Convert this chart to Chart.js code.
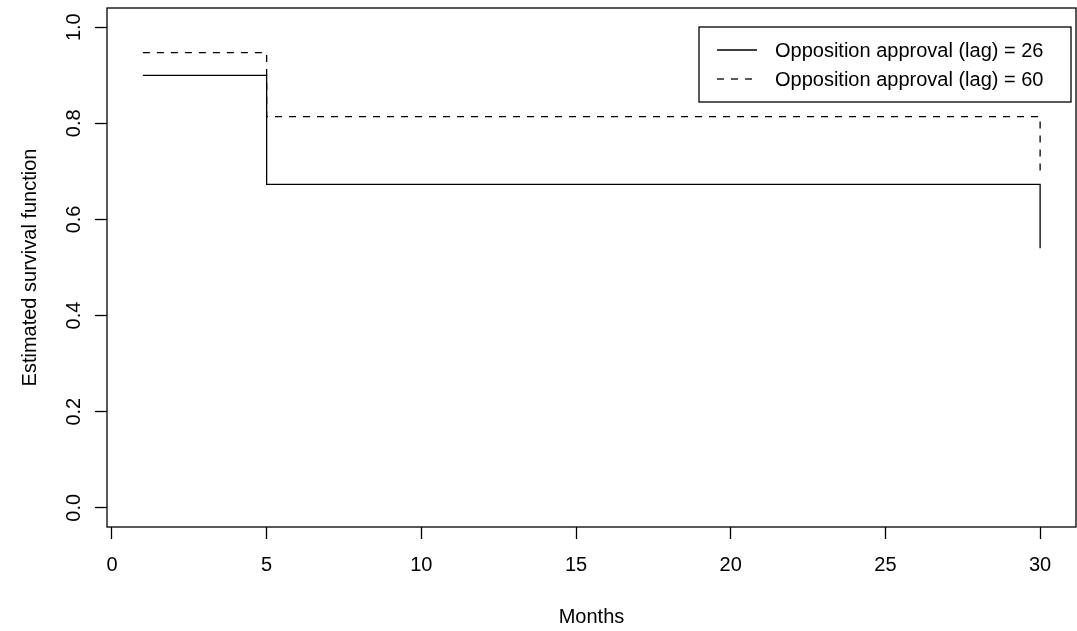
<!DOCTYPE html>
<html>
<head>
<meta charset="utf-8">
<title>Estimated survival function</title>
<script src="https://cdn.jsdelivr.net/npm/chart.js@4.4.1/dist/chart.umd.min.js"></script>
<style>
  html, body { margin: 0; padding: 0; background: #fff; }
  canvas { display: block; }
</style>
</head>
<body>
<canvas id="survival" width="1077" height="631"></canvas>
<script>
// step points (month where the estimate changes)
const months = [1, 5, 30];
const survLag26 = [0.900, 0.673, 0.540];
const survLag60 = [0.947, 0.814, 0.696];

const seriesLabels = ['Opposition approval (lag) = 26', 'Opposition approval (lag) = 60'];

const xTicks = [0, 5, 10, 15, 20, 25, 30];
const yTicks = [0.0, 0.2, 0.4, 0.6, 0.8, 1.0];
const xRange = [-0.16, 31.16];
const yRange = [-0.04, 1.04];

const FONT = "'Liberation Sans', Arial, Helvetica, sans-serif";

function toPoints(xs, ys) {
  return xs.map((x, i) => ({ x, y: ys[i] }));
}

// labels may spill past the box, R style; don't let chart.js shrink the area for them
function noOverflow(s) {
  s.paddingTop = 0;
  s.paddingBottom = 0;
  s.paddingLeft = 0;
  s.paddingRight = 0;
}

// R-style full box around the plotting region
const boxPlugin = {
  id: 'plotBox',
  afterDraw(chart) {
    const { ctx, chartArea: a } = chart;
    ctx.save();
    ctx.strokeStyle = '#000';
    ctx.lineWidth = 1.3;
    ctx.strokeRect(a.left, a.top, a.right - a.left, a.bottom - a.top);
    ctx.restore();
  }
};

// boxed legend in the top-right corner
const legendPlugin = {
  id: 'boxLegend',
  afterDraw(chart) {
    const { ctx, chartArea: a } = chart;
    const right = a.right - 5;
    const left = right - 372;
    const top = a.top + 19;
    const h = 75;
    ctx.save();
    ctx.strokeStyle = '#000';
    ctx.lineWidth = 1.3;
    ctx.strokeRect(left, top, right - left, h);
    ctx.font = '20px ' + FONT;
    ctx.fillStyle = '#000';
    ctx.textBaseline = 'middle';
    ctx.textAlign = 'left';
    chart.data.datasets.forEach((ds, i) => {
      const y = top + 23 + i * 29;
      ctx.beginPath();
      ctx.setLineDash(ds.borderDash || []);
      ctx.lineWidth = ds.borderWidth;
      ctx.strokeStyle = ds.borderColor;
      ctx.moveTo(left + 18, y);
      ctx.lineTo(left + 58, y);
      ctx.stroke();
      ctx.setLineDash([]);
      ctx.fillText(ds.label, left + 76, y + 1);
    });
    ctx.restore();
  }
};

function boot() {
  const el = document.getElementById('survival');
  Chart.defaults.font.family = FONT;
  Chart.defaults.font.size = 20;
  Chart.defaults.color = '#000';

  new Chart(el.getContext('2d'), {
    type: 'line',
    data: {
      datasets: [
        {
          label: seriesLabels[0],
          data: toPoints(months, survLag26),
          stepped: 'before',
          borderColor: '#000',
          borderWidth: 1.3,
          pointRadius: 0,
          fill: false
        },
        {
          label: seriesLabels[1],
          data: toPoints(months, survLag60),
          stepped: 'before',
          borderColor: '#000',
          borderWidth: 1.3,
          borderDash: [7, 7],
          pointRadius: 0,
          fill: false
        }
      ]
    },
    options: {
      responsive: false,
      animation: false,
      layout: { padding: { top: 8, right: 1, left: 0, bottom: 0 } },
      plugins: {
        legend: { display: false },
        tooltip: { enabled: false }
      },
      scales: {
        x: {
          type: 'linear',
          min: xRange[0],
          max: xRange[1],
          afterBuildTicks: s => { s.ticks = xTicks.map(v => ({ value: v })); },
          afterFit: s => { s.height = 104; noOverflow(s); },
          border: { display: false },
          grid: { drawOnChartArea: false, drawTicks: true, tickLength: 12, tickColor: '#000', tickWidth: 1.3 },
          ticks: { autoSkip: false, maxRotation: 0, padding: 14, color: '#000', font: { size: 20 } },
          title: { display: true, text: 'Months', color: '#000', font: { size: 20 }, padding: { top: 0, bottom: 2 } }
        },
        y: {
          type: 'linear',
          min: yRange[0],
          max: yRange[1],
          afterBuildTicks: s => { s.ticks = yTicks.map(v => ({ value: v })); },
          afterFit: s => { s.width = 107; noOverflow(s); },
          border: { display: false },
          grid: { drawOnChartArea: false, drawTicks: true, tickLength: 12, tickColor: '#000', tickWidth: 1.3 },
          ticks: {
            autoSkip: false,
            minRotation: 90,
            maxRotation: 90,
            crossAlign: 'center',
            padding: 7,
            color: '#000',
            font: { size: 20 },
            callback: v => Number(v).toFixed(1)
          },
          title: { display: true, text: 'Estimated survival function', color: '#000', font: { size: 20 }, padding: { top: 18, bottom: 0 } }
        }
      }
    },
    plugins: [boxPlugin, legendPlugin]
  });
}

if (document.readyState === 'loading') {
  document.addEventListener('DOMContentLoaded', boot, { once: true });
} else {
  boot();
}
</script>
</body>
</html>
